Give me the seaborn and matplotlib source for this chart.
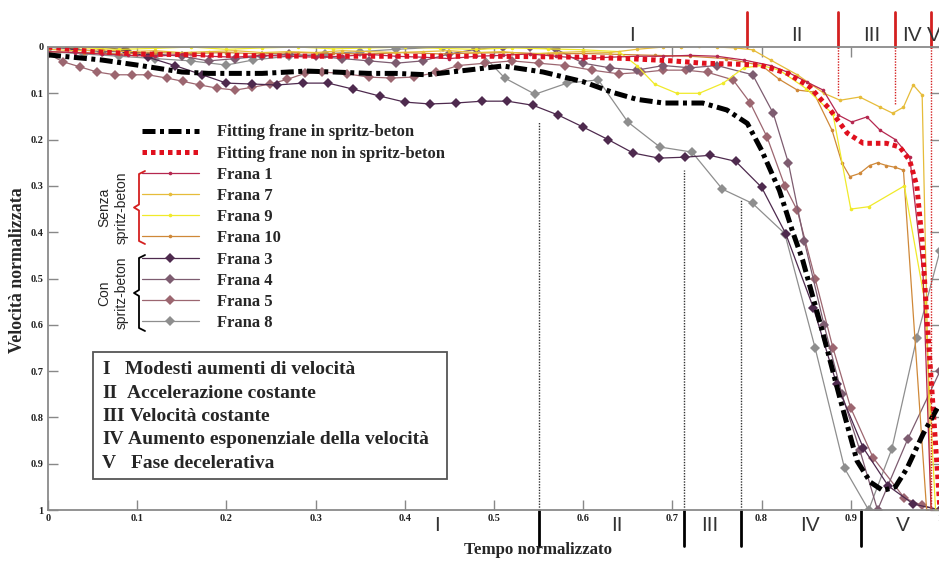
import numpy as np
import matplotlib
matplotlib.use("Agg")
import matplotlib.pyplot as plt
from matplotlib.lines import Line2D
from matplotlib.patches import Rectangle
import seaborn as sns

sns.set_style("ticks")
plt.rcParams["font.family"] = ["Liberation Serif", "DejaVu Serif"]

W, H = 939, 561


def fx(px):
    return px / W


def fy(py):
    return 1 - py / H


# ---- data (x = tempo norm., y = velocita norm.) ----
fit_in_x = [0, 0.06, 0.1, 0.15, 0.18, 0.24, 0.29, 0.32, 0.36, 0.39, 0.425, 0.47, 0.51, 0.555,
            0.6, 0.633, 0.66, 0.69, 0.734, 0.761, 0.784, 0.8, 0.82, 0.835, 0.846, 0.869,
            0.888, 0.907, 0.922, 0.936, 0.95, 0.963, 0.981, 0.997]
fit_in_y = [0.017, 0.028, 0.039, 0.054, 0.057, 0.057, 0.052, 0.054, 0.057, 0.057, 0.06, 0.05,
            0.041, 0.054, 0.075, 0.098, 0.113, 0.121, 0.121, 0.136, 0.165, 0.223, 0.31, 0.40,
            0.46, 0.62, 0.76, 0.894, 0.94, 0.958, 0.95, 0.91, 0.836, 0.78]

fit_non_x = [0, 0.05, 0.1, 0.2, 0.3, 0.4, 0.5, 0.6, 0.65, 0.7, 0.734, 0.77, 0.798, 0.829,
             0.854, 0.877, 0.896, 0.914, 0.94, 0.955, 0.966, 0.974, 0.98, 0.985, 0.993, 1.0]
fit_non_y = [0.0, 0.01, 0.015, 0.018, 0.02, 0.02, 0.02, 0.022, 0.025, 0.03, 0.035, 0.037,
             0.039, 0.057, 0.086, 0.136, 0.186, 0.208, 0.208, 0.216, 0.245, 0.30, 0.42,
             0.576, 0.8, 1.0]

# Senza spritz-beton
frana1_x = [0, 0.03, 0.06, 0.09, 0.12, 0.15, 0.18, 0.21, 0.24, 0.27, 0.3, 0.33, 0.36, 0.39,
            0.42, 0.45, 0.48, 0.51, 0.54, 0.57, 0.6, 0.63, 0.66, 0.69, 0.72, 0.75, 0.78, 0.81,
            0.83, 0.851, 0.869, 0.886, 0.901, 0.918, 0.933, 0.95, 0.966, 0.981, 0.99]
frana1_y = [0.01, 0.012, 0.015, 0.018, 0.02, 0.016, 0.02, 0.022, 0.018, 0.02, 0.022, 0.02,
            0.016, 0.02, 0.022, 0.025, 0.02, 0.018, 0.015, 0.02, 0.025, 0.022, 0.02, 0.02,
            0.018, 0.02, 0.028, 0.04, 0.055, 0.076, 0.093, 0.147, 0.162, 0.151, 0.18, 0.2,
            0.237, 0.49, 1.0]

frana7_x = [0, 0.03, 0.06, 0.09, 0.12, 0.15, 0.18, 0.21, 0.24, 0.27, 0.3, 0.33, 0.36, 0.39,
            0.42, 0.45, 0.48, 0.51, 0.54, 0.57, 0.6, 0.63, 0.66, 0.69, 0.71, 0.73, 0.75, 0.77,
            0.79, 0.81, 0.84, 0.87, 0.888, 0.91, 0.933, 0.947, 0.959, 0.97, 0.98, 0.99]
frana7_y = [0.005, 0.008, 0.006, 0.01, 0.008, 0.012, 0.01, 0.008, 0.012, 0.01, 0.012, 0.008,
            0.01, 0.012, 0.01, 0.008, 0.012, 0.01, 0.015, 0.012, 0.01, 0.012, 0.005, 0.0,
            0.0, -0.002, 0.0, 0.002, 0.006, 0.028, 0.06, 0.1, 0.115, 0.108, 0.13, 0.143,
            0.13, 0.082, 0.104, 1.0]

frana9_x = [0, 0.04, 0.08, 0.12, 0.16, 0.2, 0.24, 0.28, 0.32, 0.36, 0.4, 0.44, 0.48, 0.52,
            0.56, 0.6, 0.64, 0.66, 0.68, 0.705, 0.73, 0.757, 0.78, 0.8, 0.82, 0.85, 0.88,
            0.9, 0.92, 0.96, 0.983, 0.995]
frana9_y = [0.0, 0.002, 0.005, 0.003, 0.0, 0.005, 0.002, 0.0, 0.004, 0.002, 0.0, 0.003, 0.005,
            0.002, 0.004, 0.006, 0.01, 0.04, 0.08, 0.1, 0.1, 0.078, 0.045, 0.04, 0.05, 0.09,
            0.145, 0.35, 0.345, 0.30, 0.55, 1.0]

frana10_x = [0, 0.04, 0.08, 0.12, 0.16, 0.2, 0.24, 0.28, 0.32, 0.36, 0.4, 0.44, 0.48, 0.52,
             0.56, 0.6, 0.64, 0.68, 0.72, 0.76, 0.8, 0.82, 0.84, 0.858, 0.879, 0.89, 0.899,
             0.91, 0.921, 0.93, 0.94, 0.95, 0.959, 0.985]
frana10_y = [0.01, 0.012, 0.015, 0.012, 0.014, 0.012, 0.015, 0.012, 0.014, 0.015, 0.012,
             0.015, 0.013, 0.012, 0.015, 0.014, 0.016, 0.018, 0.02, 0.025, 0.04, 0.07, 0.093,
             0.097, 0.18, 0.25, 0.28, 0.273, 0.256, 0.25, 0.256, 0.26, 0.266, 1.0]

# Con spritz-beton
frana3_x = [0, 0.028, 0.058, 0.086, 0.112, 0.142, 0.173, 0.2, 0.229, 0.257, 0.286, 0.314,
            0.342, 0.372, 0.4, 0.428, 0.457, 0.487, 0.515, 0.544, 0.572, 0.6, 0.628, 0.656,
            0.685, 0.714, 0.742, 0.771, 0.8, 0.827, 0.858, 0.884, 0.914, 0.942, 0.97, 1.0]
frana3_y = [0.0, 0.0, 0.0, 0.006, 0.022, 0.04, 0.06, 0.078, 0.08, 0.082, 0.078, 0.078, 0.091,
            0.106, 0.119, 0.123, 0.121, 0.117, 0.117, 0.126, 0.147, 0.173, 0.2, 0.229, 0.24,
            0.238, 0.234, 0.247, 0.303, 0.403, 0.563, 0.727, 0.866, 0.948, 0.987, 1.0]

frana4_x = [0, 0.03, 0.06, 0.09, 0.12, 0.15, 0.18, 0.21, 0.24, 0.27, 0.3, 0.33, 0.36, 0.39,
            0.42, 0.45, 0.48, 0.51, 0.54, 0.57, 0.6, 0.63, 0.66, 0.69, 0.72, 0.75, 0.79,
            0.813, 0.83, 0.848, 0.87, 0.89, 0.91, 0.93, 0.964, 1.0]
frana4_y = [0.0, 0.005, 0.01, 0.01, 0.015, 0.02, 0.03, 0.025, 0.02, 0.015, 0.02, 0.025, 0.03,
            0.035, 0.03, 0.015, 0.005, 0.0, 0.0, 0.005, 0.035, 0.045, 0.05, 0.04, 0.045,
            0.04, 0.06, 0.143, 0.25, 0.42, 0.6, 0.75, 0.87, 1.0, 0.846, 0.7]

frana5_x = [0, 0.017, 0.036, 0.055, 0.075, 0.094, 0.112, 0.133, 0.151, 0.17, 0.19, 0.21,
            0.229, 0.249, 0.268, 0.288, 0.307, 0.335, 0.36, 0.385, 0.41, 0.435, 0.46, 0.49,
            0.52, 0.55, 0.58, 0.61, 0.64, 0.665, 0.69, 0.715, 0.74, 0.768, 0.787, 0.806,
            0.826, 0.84, 0.86, 0.88, 0.9, 0.925, 0.96, 0.98, 1.0]
frana5_y = [0.015, 0.032, 0.043, 0.054, 0.06, 0.06, 0.06, 0.067, 0.074, 0.082, 0.089, 0.093,
            0.087, 0.08, 0.07, 0.057, 0.054, 0.058, 0.065, 0.067, 0.065, 0.055, 0.04, 0.035,
            0.03, 0.035, 0.04, 0.05, 0.058, 0.055, 0.05, 0.05, 0.055, 0.071, 0.12, 0.194,
            0.3, 0.353, 0.5, 0.65, 0.78, 0.887, 0.974, 0.99, 1.0]

frana8_x = [0, 0.04, 0.08, 0.12, 0.16, 0.2, 0.23, 0.27, 0.31, 0.35, 0.39, 0.443, 0.479,
            0.512, 0.546, 0.582, 0.617, 0.65, 0.686, 0.722, 0.756, 0.79, 0.826, 0.86, 0.893,
            0.92, 0.946, 0.974, 1.0]
frana8_y = [0.01, 0.015, 0.02, 0.025, 0.03, 0.039, 0.028, 0.02, 0.015, 0.01, 0.005, 0.0, 0.0,
            0.067, 0.102, 0.078, 0.071, 0.162, 0.216, 0.227, 0.307, 0.338, 0.403, 0.65, 0.91,
            1.0, 0.868, 0.628, 0.44]

# phase boundaries (top: red, bottom: black) and their labels
top_bounds = [0.784, 0.886, 0.95, 0.99]
top_dotted_end = [None, 0.108, 0.126, 1.0]
top_phase_x = [0.655, 0.84, 0.923, 0.969, 0.993]
bottom_bounds = [0.55, 0.713, 0.777, 0.911]
bottom_dotted_end = [0.162, 0.266, 0.331, None]
bottom_phase_x = [0.436, 0.638, 0.742, 0.854, 0.958]
phase_labels = ["I", "II", "III", "IV", "V"]
phase_desc = ["Modesti aumenti di velocità", "Accelerazione costante", "Velocità costante",
              "Aumento esponenziale della velocità", "Fase decelerativa"]

# ---- figure ----
fig = plt.figure(figsize=(W / 100, H / 100), dpi=100)
ax = fig.add_axes([fx(48), fy(510), 892 / W, 463 / H])

small = dict(lw=0.9, marker="o", ms=2.6, markeredgewidth=0)
diam = dict(lw=0.9, marker="D", ms=5, markeredgewidth=0)

series = [
    ("Frana 8", frana8_x, frana8_y, "#8e8e8e", diam),
    ("Frana 5", frana5_x, frana5_y, "#9c6670", diam),
    ("Frana 4", frana4_x, frana4_y, "#7d5c70", diam),
    ("Frana 3", frana3_x, frana3_y, "#4e2a4e", diam),
    ("Frana 10", frana10_x, frana10_y, "#cf8838", small),
    ("Frana 9", frana9_x, frana9_y, "#f0ea2a", small),
    ("Frana 7", frana7_x, frana7_y, "#e6bc3a", small),
    ("Frana 1", frana1_x, frana1_y, "#b5274f", small),
]
handles = {}
for name, xs, ys, col, st in series:
    sns.lineplot(x=xs, y=ys, ax=ax, sort=False, estimator=None, color=col,
                 markeredgecolor=col, legend=False, **st)
    handles[name] = Line2D([], [], color=col, markeredgecolor=col, **st)

dashdot = (0, (2.6, 0.9, 0.8, 0.9))
dotted = (0, (0.9, 0.8))
sns.lineplot(x=fit_non_x, y=fit_non_y, ax=ax, sort=False, estimator=None,
             color="#e0101e", lw=3.6, linestyle=dotted, legend=False)
sns.lineplot(x=fit_in_x, y=fit_in_y, ax=ax, sort=False, estimator=None,
             color="black", lw=3.6, linestyle=dashdot, legend=False)

# phase markers
sans = ["Liberation Sans", "DejaVu Sans"]
for b, e in zip(top_bounds, top_dotted_end):
    ax.plot([b, b], [-0.076, 0], color="#d42020", lw=2, clip_on=False)
    if e is not None:
        ax.plot([b, b], [0, e], color="#d42020", lw=1, linestyle=(0, (1, 1)))
for b, e in zip(bottom_bounds, bottom_dotted_end):
    ax.plot([b, b], [1.0, 1.078], color="black", lw=2, clip_on=False)
    if e is not None:
        ax.plot([b, b], [1.0, e], color="#333333", lw=1, linestyle=(0, (1, 1)))
for px_, lab in zip(top_phase_x, phase_labels):
    ax.text(px_, -0.025, lab, ha="center", va="center", fontsize=15,
            family=sans, color="#333333", clip_on=False)
for px_, lab in zip(bottom_phase_x, phase_labels):
    ax.text(px_, 1.034, lab, ha="center", va="center", fontsize=15,
            family=sans, color="#333333", clip_on=False)

# axes styling
ax.set_xlim(0, 1)
ax.set_ylim(1, 0)
ticks = np.round(np.arange(0, 1.01, 0.1), 1)
labels = ["0"] + [f"{t:.1f}" for t in ticks[1:-1]] + ["1"]
ax.set_xticks(ticks)
ax.set_xticklabels(labels, fontweight="bold")
ax.set_yticks(ticks)
ax.set_yticklabels(labels, fontweight="bold")
ax.tick_params(direction="in", length=7, width=1, color="#888888", top=True, right=True,
               labelsize=7.5, pad=3, labelcolor="#222222")
for sp in ax.spines.values():
    sp.set_color("#8a8a8a")
    sp.set_linewidth(1.3)

fig.text(fx(538), fy(550), "Tempo normalizzato", ha="center", va="center",
         fontsize=12.2, fontweight="bold")
fig.text(fx(18), fy(270), "Velocità normalizzata", ha="center", va="center",
         rotation=90, fontsize=12.8, fontweight="bold")

# legend
h_in = Line2D([], [], color="black", lw=3.6, linestyle=dashdot)
h_non = Line2D([], [], color="#e0101e", lw=3.6, linestyle=dotted)
order = ["Frana 1", "Frana 7", "Frana 9", "Frana 10", "Frana 3", "Frana 4", "Frana 5", "Frana 8"]
ax.legend([h_in, h_non] + [handles[n] for n in order],
          ["Fitting frane in spritz-beton", "Fitting frane non in spritz-beton"] + order,
          loc="upper left", bbox_to_anchor=(fx(142), fy(124.5)), bbox_transform=fig.transFigure,
          frameon=False, borderpad=0, borderaxespad=0, handlelength=3.4, handletextpad=1.1,
          labelspacing=0.31, prop=dict(family="Liberation Serif", weight="bold", size=12))


# group brackets
def bracket(top, bot, col):
    mid = (top + bot) / 2
    xs = [145, 139, 139, 134, 139, 139, 145]
    ys = [top, top + 3, mid - 3, mid, mid + 3, bot - 3, bot]
    fig.add_artist(Line2D([fx(v) for v in xs], [fy(v) for v in ys], color=col, lw=1.3))
    return mid


m1 = bracket(171, 244, "#d42020")
m2 = bracket(255, 331, "black")
fig.text(fx(113), fy(m1), "Senza\nspritz-beton", rotation=90, ha="center", va="center",
         multialignment="center", fontsize=10, family=sans, linespacing=1.3)
fig.text(fx(113), fy(m2), "Con\nspritz-beton", rotation=90, ha="center", va="center",
         multialignment="center", fontsize=10, family=sans, linespacing=1.3)

# phase description box
fig.add_artist(Rectangle((fx(93), fy(479)), (447 - 93) / W, (479 - 352) / H,
                         transform=fig.transFigure, fill=False, edgecolor="#555555", lw=1.3))
desc_x = [125, 127, 130, 128, 131]
for i, (lab, d) in enumerate(zip(phase_labels, phase_desc)):
    yy = 370 + i * 23.3
    fig.text(fx(102), fy(yy), lab, ha="left", va="center", fontsize=14, fontweight="bold")
    fig.text(fx(desc_x[i]), fy(yy), d, ha="left", va="center", fontsize=14, fontweight="bold")

fig.savefig("out.png", dpi=100)
